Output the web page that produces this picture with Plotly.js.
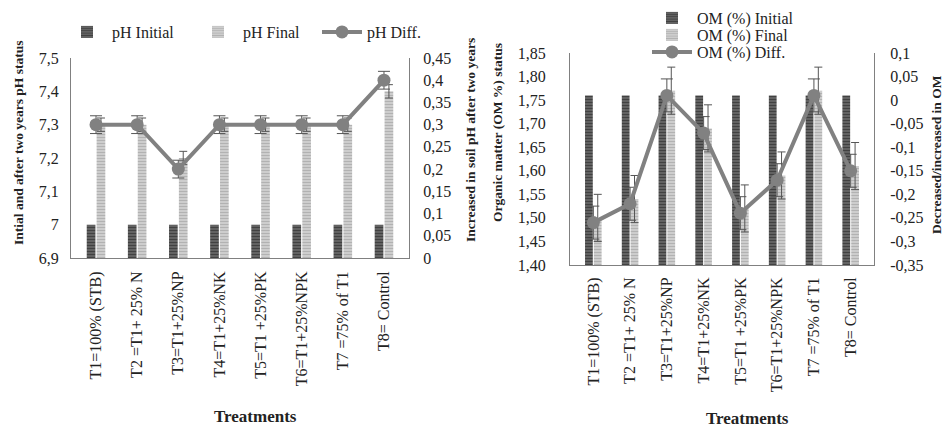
<!DOCTYPE html>
<html>
<head>
<meta charset="utf-8">
<script src="https://cdn.plot.ly/plotly-3.0.1.min.js"></script>
<style>html,body{margin:0;padding:0;background:#fff;}#chart{width:946px;height:430px;}</style>
</head>
<body>
<div id="chart"></div>
<script>
// ---- data ----
const treatments = ["T1=100% (STB)", "T2 =T1+ 25% N", "T3=T1+25%NP", "T4=T1+25%NK", "T5=T1 +25%PK", "T6=T1+25%NPK", "T7 =75% of T1", "T8= Control"];

const phInitial = [7.0, 7.0, 7.0, 7.0, 7.0, 7.0, 7.0, 7.0];
const phFinal   = [7.3, 7.3, 7.2, 7.3, 7.3, 7.3, 7.3, 7.4];
const phFinalErr = [0.02, 0.02, 0.02, 0.02, 0.02, 0.02, 0.02, 0.02];
const phDiff    = [0.3, 0.3, 0.2, 0.3, 0.3, 0.3, 0.3, 0.4];
const phDiffErr = [0.02, 0.02, 0.02, 0.02, 0.02, 0.02, 0.02, 0.02];

const omInitial = [1.76, 1.76, 1.76, 1.76, 1.76, 1.76, 1.76, 1.76];
const omFinal   = [1.50, 1.54, 1.77, 1.69, 1.52, 1.59, 1.77, 1.61];
const omFinalErr = [0.05, 0.05, 0.05, 0.05, 0.05, 0.05, 0.05, 0.05];
const omDiff    = [-0.26, -0.22, 0.01, -0.07, -0.24, -0.17, 0.01, -0.15];
const omDiffErr = [0.035, 0.035, 0.035, 0.035, 0.035, 0.035, 0.035, 0.035];

const omLeftTicks = [1.40, 1.45, 1.50, 1.55, 1.60, 1.65, 1.70, 1.75, 1.80, 1.85];
const omLeftTickText = ["1,40", "1,45", "1,50", "1,55", "1,60", "1,65", "1,70", "1,75", "1,80", "1,85"];
const omRightTicks = [-0.35, -0.3, -0.25, -0.2, -0.15, -0.1, -0.05, 0, 0.05, 0.1];
const omRightTickText = ["-0,35", "-0,3", "-0,25", "-0,2", "-0,15", "-0,1", "-0,05", "0", "0,05", "0,1"];

// ---- styles ----
const FONT = '"Liberation Serif", "Times New Roman", serif';
const txt = "#222";
const darkPat = {shape: "-", bgcolor: "#666666", fgcolor: "#414141", size: 3, solidity: 0.4};
const lightPat = {shape: "-", bgcolor: "#d0d0d0", fgcolor: "#b2b2b2", size: 3, solidity: 0.4};
const lineCol = "#818181";
const errCol = "#555";

const W = 946, H = 430;
const px = v => v / W, py = v => 1 - v / H;

const traces = [
  {type: "bar", name: "pH Initial", x: treatments, y: phInitial, xaxis: "x", yaxis: "y", showlegend: true,
   marker: {color: "#666666", pattern: darkPat, line: {width: 0}}, legend: "legend"},
  {type: "bar", name: "pH Final", x: treatments, y: phFinal, xaxis: "x", yaxis: "y", showlegend: true,
   marker: {color: "#d0d0d0", pattern: lightPat, line: {width: 0}}, legend: "legend2",
   error_y: {type: "data", array: phFinalErr, color: errCol, thickness: 1, width: 4}},
  {type: "scatter", mode: "lines+markers", name: "pH Diff.", x: treatments, y: phDiff, xaxis: "x", yaxis: "y2", showlegend: true,
   line: {color: lineCol, width: 4}, marker: {color: lineCol, size: 13}, legend: "legend3",
   error_y: {type: "data", array: phDiffErr, color: errCol, thickness: 1, width: 6}},

  {type: "bar", name: "OM (%) Initial", x: treatments, y: omInitial, xaxis: "x2", yaxis: "y3", showlegend: true,
   marker: {color: "#666666", pattern: darkPat, line: {width: 0}}, legend: "legend4"},
  {type: "bar", name: "OM (%) Final", x: treatments, y: omFinal, xaxis: "x2", yaxis: "y3", showlegend: true,
   marker: {color: "#d0d0d0", pattern: lightPat, line: {width: 0}}, legend: "legend5",
   error_y: {type: "data", array: omFinalErr, color: errCol, thickness: 1, width: 4}},
  {type: "scatter", mode: "lines+markers", name: "OM (%) Diff.", x: treatments, y: omDiff, xaxis: "x2", yaxis: "y4", showlegend: true,
   line: {color: lineCol, width: 4}, marker: {color: lineCol, size: 13}, legend: "legend6",
   error_y: {type: "data", array: omDiffErr, color: errCol, thickness: 1, width: 6}}
];

const axFont = {family: FONT, size: 16, color: txt};
const baseY = {showgrid: false, zeroline: false, showline: true, linecolor: "#808080", linewidth: 1, ticks: "", tickfont: axFont, fixedrange: true};
const baseX = {showgrid: false, zeroline: false, showline: true, linecolor: "#808080", linewidth: 1, ticks: "", tickangle: -90, tickfont: axFont, type: "category", ticklabelstandoff: 6};

const annFont = {family: FONT, size: 13.5, color: txt, weight: "bold"};
function vtext(text, x, y) {
  return {text: text, xref: "paper", yref: "paper", x: px(x), y: py(y), showarrow: false,
          textangle: -90, font: annFont, xanchor: "center", yanchor: "middle"};
}
function leg(x, y) {
  return {visible: true, orientation: "h", x: px(x), xanchor: "left", y: py(y), yanchor: "middle",
    font: {family: FONT, size: 16, color: txt}, itemwidth: 40, bgcolor: "rgba(0,0,0,0)"};
}

const layout = {
  width: W, height: H,
  margin: {l: 0, r: 0, t: 0, b: 0},
  paper_bgcolor: "#fff", plot_bgcolor: "rgba(0,0,0,0)",
  showlegend: true,
  separators: ", ",
  barmode: "group", bargap: 0.52, bargroupgap: 0.12,
  font: {family: FONT, color: txt},
  xaxis: Object.assign({}, baseX, {domain: [px(71), px(409)], anchor: "y"}),
  yaxis: Object.assign({}, baseY, {domain: [1 - 258 / H, 1 - 58 / H], anchor: "x", range: [6.9, 7.5], dtick: 0.1, tick0: 6.9, ticklabelstandoff: 8}),
  yaxis2: Object.assign({}, baseY, {overlaying: "y", side: "right", anchor: "x", range: [0, 0.45], dtick: 0.05, tick0: 0, ticklabelstandoff: 10}),
  xaxis2: Object.assign({}, baseX, {domain: [px(570), px(874)], anchor: "y3", ticklabelstandoff: 5}),
  yaxis3: Object.assign({}, baseY, {domain: [1 - 265 / H, 1 - 53 / H], anchor: "x2", range: [1.40, 1.85],
    tickmode: "array", tickvals: omLeftTicks, ticktext: omLeftTickText, ticklabelstandoff: 20}),
  yaxis4: Object.assign({}, baseY, {overlaying: "y3", side: "right", anchor: "x2", range: [-0.35, 0.10],
    tickmode: "array", tickvals: omRightTicks, ticktext: omRightTickText, ticklabelstandoff: 12}),
  legend: leg(62, 32),
  legend2: leg(193, 32),
  legend3: leg(317, 32),
  legend4: leg(647, 18),
  legend5: leg(647, 35),
  legend6: leg(647, 52),
  annotations: [
    vtext("Intial and after two years pH status", 18, 143),
    vtext("Increased in soil pH after two years", 470, 140),
    vtext("Organic matter (OM %) status", 497, 132),
    vtext("Decreased/increased in OM", 936, 155),
    {text: "Treatments", xref: "paper", yref: "paper", x: px(255), y: py(416), showarrow: false,
     font: {family: FONT, size: 17, color: txt, weight: "bold"}, xanchor: "center", yanchor: "middle"},
    {text: "Treatments", xref: "paper", yref: "paper", x: px(747), y: py(418), showarrow: false,
     font: {family: FONT, size: 17, color: txt, weight: "bold"}, xanchor: "center", yanchor: "middle"}
  ]
};

Plotly.newPlot("chart", traces, layout, {displayModeBar: false, staticPlot: true});
</script>
</body>
</html>
